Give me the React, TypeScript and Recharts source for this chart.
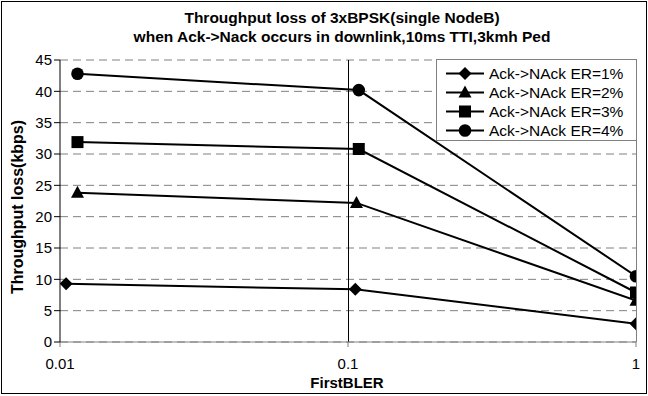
import { LineChart, Line, XAxis, YAxis, CartesianGrid, ReferenceLine } from 'recharts';

// each series was measured at slightly different FirstBLER points
const bler1 = [0.0105, 0.106, 1];
const bler2 = [0.0115, 0.107, 1];
const bler3 = [0.0115, 0.109, 1];
const bler4 = [0.0115, 0.109, 1];
const loss1 = [9.3, 8.4, 2.9];
const loss2 = [23.8, 22.2, 6.6];
const loss3 = [31.9, 30.8, 7.9];
const loss4 = [42.8, 40.2, 10.5];
const seriesNames = ['Ack->NAck ER=1%', 'Ack->NAck ER=2%', 'Ack->NAck ER=3%', 'Ack->NAck ER=4%'];
const xTicks = [0.01, 0.1, 1];
const yTicks = [0, 5, 10, 15, 20, 25, 30, 35, 40, 45];

const toRows = (xs: number[], ys: number[]) => xs.map((x, i) => ({ x, y: ys[i] }));
const series = [
  toRows(bler1, loss1),
  toRows(bler2, loss2),
  toRows(bler3, loss3),
  toRows(bler4, loss4),
];

const FONT = '"Liberation Sans", Arial, sans-serif';

type Shape = 'diamond' | 'triangle' | 'square' | 'circle';
const shapes: Shape[] = ['diamond', 'triangle', 'square', 'circle'];

function Marker({ cx, cy, shape }: { cx: number; cy: number; shape: Shape }) {
  if (cx == null || cy == null) return null;
  if (shape === 'diamond') {
    const r = 6.5;
    return <polygon points={`${cx},${cy - r} ${cx + r},${cy} ${cx},${cy + r} ${cx - r},${cy}`} fill="#000" />;
  }
  if (shape === 'triangle') {
    return <polygon points={`${cx},${cy - 7} ${cx + 6.5},${cy + 5} ${cx - 6.5},${cy + 5}`} fill="#000" />;
  }
  if (shape === 'square') {
    return <rect x={cx - 6} y={cy - 6} width={12} height={12} fill="#000" />;
  }
  return <circle cx={cx} cy={cy} r={6.3} fill="#000" />;
}

function LegendBox() {
  return (
    <div
      style={{
        position: 'absolute',
        left: 436,
        top: 59,
        width: 199,
        height: 80,
        border: '1px solid #808080',
        background: '#fff',
        fontFamily: FONT,
        fontSize: 15.5,
      }}
    >
      {seriesNames.map((name, i) => (
        <div key={name} style={{ position: 'absolute', left: 9, top: 4 + i * 19, height: 19, display: 'flex', alignItems: 'center' }}>
          <svg width={38} height={19}>
            <line x1={0} y1={9.5} x2={38} y2={9.5} stroke="#000" strokeWidth={2} />
            <Marker cx={19} cy={9.5} shape={shapes[i]} />
          </svg>
          <span style={{ marginLeft: 5, whiteSpace: 'nowrap' }}>{name}</span>
        </div>
      ))}
    </div>
  );
}

export default function App() {
  return (
    <div style={{ position: 'absolute', left: 0, top: 0, width: 648, height: 396, background: '#fff' }}>
      <div
        style={{
          position: 'absolute',
          left: 1,
          top: 1,
          width: 644,
          height: 391,
          border: '1px solid #000',
        }}
      />
      <div
        style={{
          position: 'absolute',
          left: 342,
          top: 8,
          transform: 'translateX(-50%)',
          textAlign: 'center',
          whiteSpace: 'nowrap',
          fontFamily: FONT,
          fontWeight: 'bold',
          fontSize: 15.5,
          lineHeight: '19px',
        }}
      >
        Throughput loss of 3xBPSK(single NodeB)
        <br />
        when Ack-&gt;Nack occurs in downlink,10ms TTI,3kmh Ped
      </div>
      <div
        style={{
          position: 'absolute',
          left: 18,
          top: 207,
          fontFamily: FONT,
          fontWeight: 'bold',
          fontSize: 16,
          whiteSpace: 'nowrap',
          transform: 'translate(-50%, -50%) rotate(-90deg)',
        }}
      >
        Throughput loss(kbps)
      </div>
      <div
        style={{
          position: 'absolute',
          left: 347,
          top: 382,
          fontFamily: FONT,
          fontWeight: 'bold',
          fontSize: 15,
          transform: 'translate(-50%, -50%)',
        }}
      >
        FirstBLER
      </div>
      <div style={{ position: 'absolute', left: 0, top: 0 }}>
        <LineChart width={648} height={396} margin={{ top: 60, right: 12, left: 0, bottom: 0 }}>
          <CartesianGrid vertical={false} stroke="#808080" strokeDasharray="8 5" />
          <XAxis
            dataKey="x"
            type="number"
            scale="log"
            domain={[0.01, 1]}
            ticks={xTicks}
            allowDataOverflow
            height={54}
            stroke="#808080"
            tickSize={5}
            tick={{ fill: '#000', fontSize: 15, fontFamily: FONT, dy: 9 }}
            tickFormatter={(v: number) => String(v)}
          />
          <YAxis
            type="number"
            domain={[0, 45]}
            ticks={yTicks}
            width={60}
            stroke="#000"
            tickSize={6}
            tick={{ fill: '#000', fontSize: 15, fontFamily: FONT }}
          />
          <ReferenceLine x={0.1} stroke="#000" strokeWidth={1} shapeRendering="crispEdges" />
          <ReferenceLine x={1} stroke="#808080" strokeWidth={1} shapeRendering="crispEdges" />
          {series.map((rows, i) => (
            <Line
              key={seriesNames[i]}
              data={rows}
              dataKey="y"
              name={seriesNames[i]}
              stroke="#000"
              strokeWidth={2}
              isAnimationActive={false}
              dot={(p: any) => <Marker key={`${i}-${p.index}`} cx={p.cx} cy={p.cy} shape={shapes[i]} />}
              activeDot={false}
            />
          ))}
        </LineChart>
      </div>
      <LegendBox />
    </div>
  );
}
